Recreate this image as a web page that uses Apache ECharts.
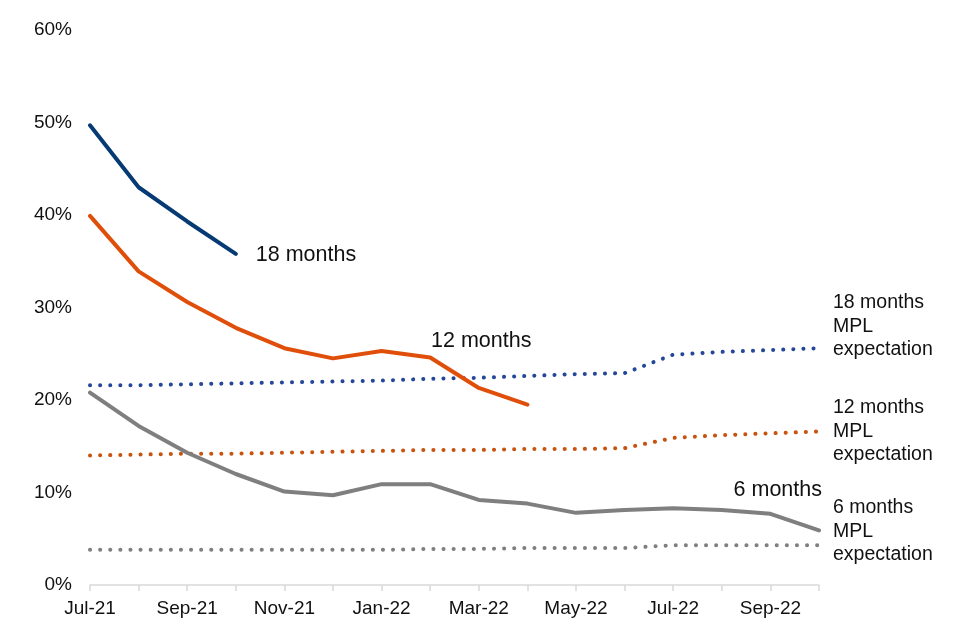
<!DOCTYPE html>
<html>
<head>
<meta charset="utf-8">
<script src="https://cdn.jsdelivr.net/npm/echarts@6/dist/echarts.min.js"></script>
<style>html,body{margin:0;padding:0;background:#fff}#c{width:960px;height:640px}</style>
</head>
<body>
<div id="c"></div>
<script>
var months = ['Jul-21','Aug-21','Sep-21','Oct-21','Nov-21','Dec-21','Jan-22','Feb-22','Mar-22','Apr-22','May-22','Jun-22','Jul-22','Aug-22','Sep-22','Oct-22'];
var m18 = [49.7, 43.0, 39.3, 35.8];
var m12 = [39.9, 33.9, 30.6, 27.8, 25.6, 24.5, 25.3, 24.6, 21.3, 19.5];
var m6 = [20.8, 17.2, 14.3, 12.0, 10.1, 9.7, 10.9, 10.9, 9.2, 8.8, 7.8, 8.1, 8.3, 8.1, 7.7, 5.9];
var mpl18 = [21.6, 21.6, 21.7, 21.8, 21.9, 22.0, 22.1, 22.3, 22.4, 22.6, 22.8, 22.9, 24.9, 25.2, 25.4, 25.6];
var mpl12 = [14.0, 14.1, 14.2, 14.2, 14.3, 14.4, 14.5, 14.6, 14.6, 14.7, 14.7, 14.8, 15.9, 16.2, 16.4, 16.6];
var mpl6 = [3.8, 3.8, 3.8, 3.8, 3.8, 3.8, 3.8, 3.9, 3.9, 4.0, 4.0, 4.0, 4.3, 4.3, 4.3, 4.3];
var yTicks = [0, 10, 20, 30, 40, 50, 60];

var FONT = 'Liberation Sans, Arial, sans-serif';
function solid(name, data, color, label) {
  return {
    name: name, type: 'line', data: data, symbol: 'none', silent: true,
    lineStyle: { color: color, width: 4, cap: 'round', join: 'round' },
    endLabel: Object.assign({ show: true, color: '#111', fontFamily: FONT }, label)
  };
}
function dotted(name, data, color, label) {
  return {
    name: name, type: 'line', data: data, symbol: 'none', silent: true,
    lineStyle: { color: color, width: 4, type: [0.1, 10], cap: 'round' },
    endLabel: Object.assign({ show: true, color: '#111', fontFamily: FONT, fontSize: 19.5, lineHeight: 23.5 }, label)
  };
}
var chart = echarts.init(document.getElementById('c'));
chart.setOption({
  animation: false,
  backgroundColor: '#fff',
  grid: { left: 90, right: 141, top: 30, bottom: 55, containLabel: false },
  xAxis: {
    type: 'category', data: months, boundaryGap: false,
    axisLine: { lineStyle: { color: '#d9d9d9', width: 1.5 } },
    axisTick: { show: true, length: 6, interval: 0, lineStyle: { color: '#d9d9d9', width: 1.5 } },
    axisLabel: { interval: 1, color: '#111', fontSize: 19, fontFamily: FONT, margin: 14 },
    splitLine: { show: false }
  },
  yAxis: {
    type: 'value', min: yTicks[0], max: yTicks[yTicks.length - 1], interval: 10,
    axisLine: { show: false }, axisTick: { show: false }, splitLine: { show: false },
    axisLabel: { formatter: '{value}%', color: '#111', fontSize: 19, fontFamily: FONT, margin: 18 }
  },
  series: [
    dotted('18 months MPL expectation', mpl18, '#24479a', { formatter: '18 months\nMPL\nexpectation', distance: 14, offset: [0, -22] }),
    dotted('12 months MPL expectation', mpl12, '#c8530f', { formatter: '12 months\nMPL\nexpectation', distance: 14, offset: [0, 0] }),
    dotted('6 months MPL expectation', mpl6, '#7f7f7f', { formatter: '6 months\nMPL\nexpectation', distance: 14, offset: [0, -14] }),
    solid('6 months', m6, '#7f7f7f', { formatter: '6 months', fontSize: 21.5, align: 'right', distance: 0, offset: [3, -40] }),
    solid('12 months', m12, '#e04f0a', { formatter: '12 months', fontSize: 21.5, align: 'right', distance: 0, offset: [4, -64] }),
    solid('18 months', m18, '#063a74', { formatter: '18 months', fontSize: 21.5, distance: 20, offset: [0, 1] })
  ]
});
</script>
</body>
</html>
